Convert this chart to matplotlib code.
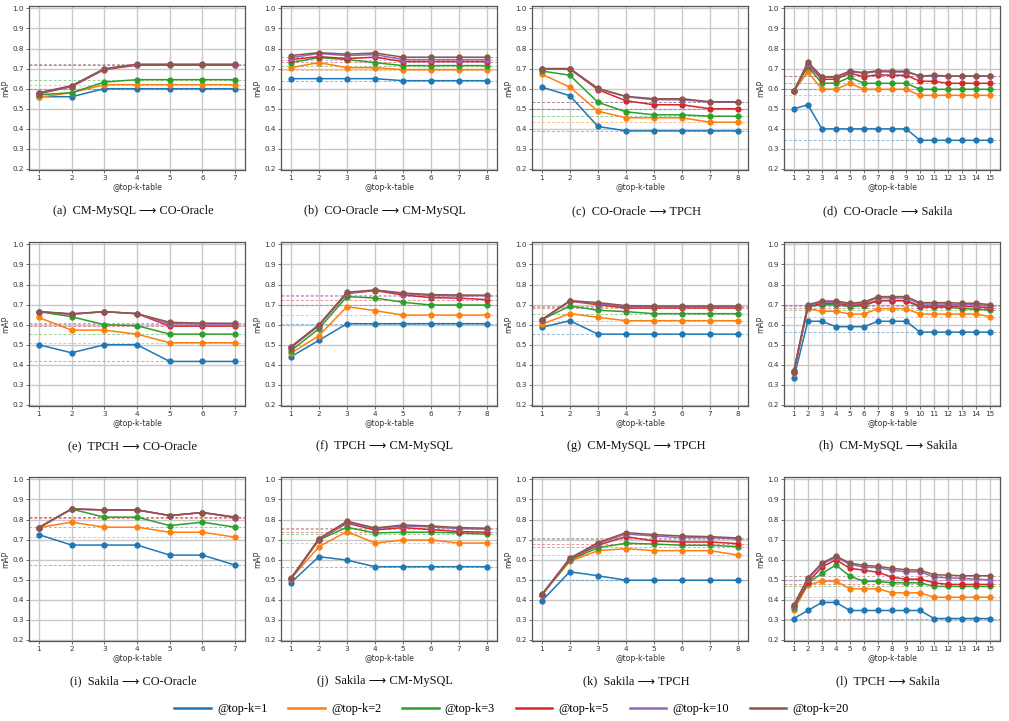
import matplotlib
matplotlib.use("Agg")
import matplotlib.pyplot as plt
from matplotlib.lines import Line2D

series_labels = ["@top-k=1", "@top-k=2", "@top-k=3", "@top-k=5", "@top-k=10", "@top-k=20"]
colors = ["#1f77b4", "#ff7f0e", "#2ca02c", "#d62728", "#9467bd", "#8c564b"]

titles = [
    "(a)  CM-MySQL \u27f6 CO-Oracle", "(b)  CO-Oracle \u27f6 CM-MySQL",
    "(c)  CO-Oracle \u27f6 TPCH", "(d)  CO-Oracle \u27f6 Sakila",
    "(e)  TPCH \u27f6 CO-Oracle", "(f)  TPCH \u27f6 CM-MySQL",
    "(g)  CM-MySQL \u27f6 TPCH", "(h)  CM-MySQL \u27f6 Sakila",
    "(i)  Sakila \u27f6 CO-Oracle", "(j)  Sakila \u27f6 CM-MySQL",
    "(k)  Sakila \u27f6 TPCH", "(l)  TPCH \u27f6 Sakila",
]

a_vals = [
    [0.56, 0.56, 0.60, 0.60, 0.60, 0.60, 0.60],
    [0.557, 0.58, 0.62, 0.62, 0.62, 0.62, 0.62],
    [0.57, 0.58, 0.633, 0.645, 0.645, 0.645, 0.645],
    [0.575, 0.61, 0.695, 0.717, 0.717, 0.717, 0.717],
    [0.578, 0.612, 0.697, 0.72, 0.72, 0.72, 0.72],
    [0.58, 0.615, 0.70, 0.722, 0.722, 0.722, 0.722],
]
b_vals = [
    [0.65, 0.65, 0.65, 0.65, 0.64, 0.64, 0.64, 0.64],
    [0.705, 0.73, 0.705, 0.705, 0.695, 0.695, 0.695, 0.695],
    [0.73, 0.755, 0.745, 0.73, 0.715, 0.715, 0.715, 0.715],
    [0.745, 0.76, 0.75, 0.757, 0.735, 0.735, 0.735, 0.735],
    [0.755, 0.775, 0.765, 0.77, 0.745, 0.745, 0.745, 0.745],
    [0.765, 0.78, 0.772, 0.778, 0.757, 0.757, 0.757, 0.757],
]
c_vals = [
    [0.608, 0.565, 0.412, 0.39, 0.39, 0.39, 0.39, 0.39],
    [0.672, 0.608, 0.488, 0.455, 0.455, 0.455, 0.433, 0.433],
    [0.688, 0.667, 0.532, 0.485, 0.47, 0.47, 0.463, 0.463],
    [0.698, 0.698, 0.595, 0.54, 0.52, 0.52, 0.50, 0.50],
    [0.70, 0.70, 0.60, 0.56, 0.545, 0.545, 0.533, 0.533],
    [0.70, 0.70, 0.602, 0.562, 0.55, 0.55, 0.535, 0.535],
]
d_vals = [
    [0.50, 0.52, 0.40, 0.40, 0.40, 0.40, 0.40, 0.40, 0.40, 0.343, 0.343, 0.343, 0.343, 0.343, 0.343],
    [0.587, 0.685, 0.597, 0.597, 0.627, 0.597, 0.597, 0.597, 0.597, 0.567, 0.567, 0.567, 0.567, 0.567, 0.567],
    [0.587, 0.71, 0.627, 0.627, 0.657, 0.627, 0.627, 0.627, 0.627, 0.597, 0.597, 0.597, 0.597, 0.597, 0.597],
    [0.587, 0.72, 0.647, 0.647, 0.677, 0.66, 0.67, 0.667, 0.667, 0.637, 0.637, 0.627, 0.627, 0.627, 0.627],
    [0.587, 0.725, 0.657, 0.657, 0.685, 0.677, 0.685, 0.683, 0.683, 0.663, 0.663, 0.663, 0.663, 0.663, 0.663],
    [0.587, 0.733, 0.66, 0.66, 0.688, 0.68, 0.69, 0.687, 0.687, 0.663, 0.667, 0.663, 0.663, 0.663, 0.663],
]
e_vals = [
    [0.50, 0.46, 0.50, 0.50, 0.417, 0.417, 0.417],
    [0.636, 0.573, 0.573, 0.553, 0.51, 0.51, 0.51],
    [0.665, 0.64, 0.60, 0.595, 0.553, 0.553, 0.553],
    [0.665, 0.652, 0.665, 0.655, 0.593, 0.593, 0.593],
    [0.665, 0.652, 0.665, 0.655, 0.605, 0.603, 0.603],
    [0.665, 0.655, 0.665, 0.655, 0.612, 0.608, 0.607],
]
f_vals = [
    [0.44, 0.522, 0.605, 0.605, 0.605, 0.605, 0.605, 0.605],
    [0.458, 0.545, 0.69, 0.67, 0.648, 0.648, 0.648, 0.648],
    [0.47, 0.58, 0.74, 0.733, 0.712, 0.698, 0.698, 0.698],
    [0.485, 0.595, 0.755, 0.77, 0.748, 0.735, 0.732, 0.725],
    [0.488, 0.598, 0.758, 0.772, 0.755, 0.745, 0.743, 0.745],
    [0.49, 0.60, 0.762, 0.773, 0.758, 0.75, 0.748, 0.747],
]
g_vals = [
    [0.587, 0.62, 0.553, 0.553, 0.553, 0.553, 0.553, 0.553],
    [0.603, 0.655, 0.637, 0.62, 0.62, 0.62, 0.62, 0.62],
    [0.625, 0.693, 0.672, 0.665, 0.655, 0.655, 0.655, 0.655],
    [0.625, 0.717, 0.70, 0.683, 0.683, 0.683, 0.683, 0.683],
    [0.625, 0.718, 0.705, 0.69, 0.69, 0.69, 0.69, 0.69],
    [0.625, 0.72, 0.71, 0.695, 0.693, 0.693, 0.693, 0.693],
]
h_vals = [
    [0.333, 0.617, 0.617, 0.59, 0.59, 0.59, 0.617, 0.617, 0.617, 0.563, 0.563, 0.563, 0.563, 0.563, 0.563],
    [0.36, 0.68, 0.667, 0.667, 0.653, 0.653, 0.68, 0.68, 0.68, 0.653, 0.653, 0.653, 0.653, 0.653, 0.64],
    [0.365, 0.69, 0.70, 0.70, 0.69, 0.695, 0.72, 0.72, 0.72, 0.687, 0.687, 0.687, 0.68, 0.677, 0.673],
    [0.365, 0.69, 0.707, 0.707, 0.697, 0.70, 0.72, 0.72, 0.72, 0.693, 0.693, 0.693, 0.69, 0.69, 0.683],
    [0.368, 0.695, 0.713, 0.713, 0.703, 0.707, 0.733, 0.733, 0.733, 0.703, 0.703, 0.703, 0.70, 0.70, 0.693],
    [0.37, 0.70, 0.718, 0.718, 0.707, 0.713, 0.74, 0.74, 0.74, 0.71, 0.71, 0.71, 0.707, 0.707, 0.70],
]
i_vals = [
    [0.725, 0.673, 0.673, 0.673, 0.623, 0.623, 0.573],
    [0.76, 0.787, 0.762, 0.762, 0.737, 0.737, 0.712],
    [0.76, 0.852, 0.812, 0.812, 0.77, 0.787, 0.762],
    [0.76, 0.852, 0.848, 0.848, 0.82, 0.835, 0.81],
    [0.76, 0.853, 0.848, 0.848, 0.82, 0.835, 0.812],
    [0.76, 0.853, 0.848, 0.848, 0.82, 0.835, 0.812],
]
j_vals = [
    [0.485, 0.615, 0.598, 0.565, 0.565, 0.565, 0.565, 0.565],
    [0.505, 0.665, 0.74, 0.683, 0.698, 0.698, 0.683, 0.683],
    [0.505, 0.698, 0.762, 0.733, 0.737, 0.737, 0.733, 0.727],
    [0.505, 0.70, 0.782, 0.748, 0.76, 0.75, 0.74, 0.737],
    [0.505, 0.702, 0.787, 0.755, 0.768, 0.763, 0.755, 0.752],
    [0.507, 0.705, 0.792, 0.758, 0.773, 0.768, 0.76, 0.757],
]
k_vals = [
    [0.395, 0.54, 0.52, 0.498, 0.498, 0.498, 0.498, 0.498],
    [0.425, 0.592, 0.645, 0.655, 0.645, 0.645, 0.645, 0.623],
    [0.425, 0.598, 0.66, 0.682, 0.678, 0.672, 0.672, 0.665],
    [0.425, 0.603, 0.672, 0.715, 0.693, 0.688, 0.688, 0.68],
    [0.425, 0.605, 0.68, 0.728, 0.718, 0.71, 0.71, 0.703],
    [0.427, 0.608, 0.685, 0.735, 0.725, 0.718, 0.715, 0.708],
]
l_vals = [
    [0.307, 0.347, 0.387, 0.387, 0.347, 0.347, 0.347, 0.347, 0.347, 0.347, 0.307, 0.307, 0.307, 0.307, 0.307],
    [0.35, 0.473, 0.493, 0.493, 0.455, 0.455, 0.455, 0.435, 0.435, 0.435, 0.413, 0.413, 0.413, 0.413, 0.413],
    [0.36, 0.483, 0.532, 0.573, 0.518, 0.492, 0.492, 0.485, 0.485, 0.485, 0.467, 0.467, 0.467, 0.467, 0.467],
    [0.367, 0.487, 0.563, 0.60, 0.557, 0.548, 0.537, 0.513, 0.503, 0.503, 0.485, 0.477, 0.477, 0.477, 0.477],
    [0.37, 0.503, 0.577, 0.612, 0.577, 0.563, 0.56, 0.547, 0.54, 0.54, 0.513, 0.51, 0.507, 0.503, 0.50],
    [0.375, 0.51, 0.583, 0.618, 0.583, 0.572, 0.567, 0.557, 0.55, 0.548, 0.525, 0.523, 0.52, 0.52, 0.52],
]

all_vals = [a_vals, b_vals, c_vals, d_vals, e_vals, f_vals,
            g_vals, h_vals, i_vals, j_vals, k_vals, l_vals]

W, H = 1009, 721
fig = plt.figure(figsize=(W / 100, H / 100), dpi=100)

col_left = [29, 281, 532, 784]
ax_w = 216
row_top = [6, 242, 477]
ax_h = 164
cap_y = [211, 446, 681]

serif = ["Liberation Serif", "DejaVu Sans"]

for idx, vals in enumerate(all_vals):
    r, c = divmod(idx, 4)
    left = col_left[c] / W
    bottom = 1 - (row_top[r] + ax_h) / H
    ax = fig.add_axes([left, bottom, ax_w / W, ax_h / H])
    n = len(vals[0])
    xs = list(range(1, n + 1))
    for s, ys in enumerate(vals):
        ax.plot(xs, ys, color=colors[s], lw=1.1, marker="o", ms=3.5, zorder=3)
        ax.axhline(ys[-1], color=colors[s], lw=0.7, ls=(0, (3, 2)), alpha=0.5, zorder=2)
    ax.set_xticks(xs)
    ax.set_ylim(0.195, 1.012)
    ax.set_yticks([0.2, 0.3, 0.4, 0.5, 0.6, 0.7, 0.8, 0.9, 1.0])
    ax.set_xlim(1 - 0.05 * (n - 1), n + 0.05 * (n - 1))
    ax.grid(True, color="#c8c8c8", lw=1.0)
    ax.set_axisbelow(True)
    ax.tick_params(labelsize=5.2, length=2, width=0.5, pad=1.5, colors="#333333")
    ax.set_xlabel("@top-k-table", fontsize=5.5, labelpad=1.5, color="#333333")
    ax.set_ylabel("mAP", fontsize=5.5, labelpad=1.5, color="#333333")
    for sp in ax.spines.values():
        sp.set_color("#555555")
        sp.set_linewidth(0.9)
    cx = (col_left[c] + ax_w / 2 - 4) / W
    fig.text(cx, 1 - cap_y[r] / H, titles[idx], ha="center", va="center",
             fontsize=8.8, family=serif, color="#111111")

handles = [Line2D([0], [0], color=colors[s], lw=1.8) for s in range(6)]
fig.legend(handles, series_labels, loc="center", bbox_to_anchor=(0.507, 1 - 709 / H),
           ncol=6, frameon=False, prop={"family": serif, "size": 8.8},
           handlelength=3.0, columnspacing=1.7, handletextpad=0.5)

fig.savefig("out.png", dpi=100)
